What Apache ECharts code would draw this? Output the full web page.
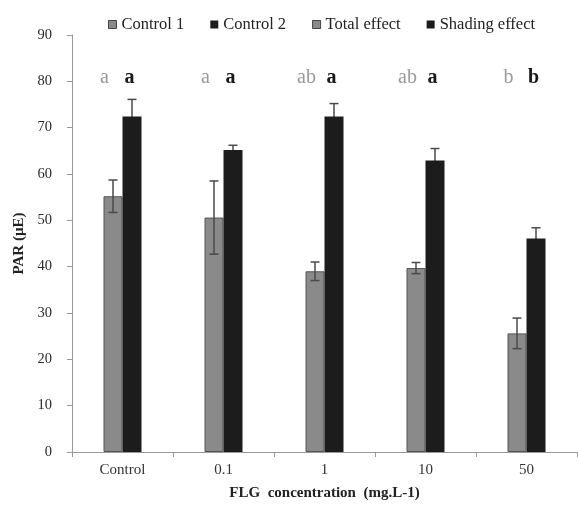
<!DOCTYPE html>
<html>
<head>
<meta charset="utf-8">
<script src="https://cdn.jsdelivr.net/npm/echarts@6/dist/echarts.min.js"></script>
<style>
html,body{margin:0;padding:0;background:#fff;}
#chart{width:578px;height:509px;}
</style>
</head>
<body>
<div id="chart"></div>
<script>
var categories = ['Control', '0.1', '1', '10', '50'];
var control1 = [55.2, null, null, null, null];
var control2 = [72.4, null, null, null, null];
var totalEffect = [null, 50.6, 39.0, 39.7, 25.6];
var shadingEffect = [null, 65.2, 72.4, 62.9, 46.1];
var grayValues = [55.2, 50.6, 39.0, 39.7, 25.6];
var blackValues = [72.4, 65.2, 72.4, 62.9, 46.1];
var grayErr = [3.5, 7.9, 2.0, 1.2, 3.3];
var blackErr = [3.7, 1.0, 2.8, 2.6, 2.3];
var grayLetters = ['a', 'a', 'ab', 'ab', 'b'];
var blackLetters = ['a', 'a', 'a', 'a', 'b'];
var yTicks = [0, 10, 20, 30, 40, 50, 60, 70, 80, 90];
var letterLevel = 80.8;

var GRAY = '#8a8a8a', BLACK = '#1c1c1c';
var SERIF = '"Liberation Serif", "DejaVu Serif", serif';
var BW = 19;

function errData(vals, errs) {
  return vals.map(function (v, i) { return [i, v - errs[i], v + errs[i]]; });
}
function errRender(shift) {
  return function (params, api) {
    var lo = api.coord([api.value(0), api.value(1)]);
    var hi = api.coord([api.value(0), api.value(2)]);
    var x = lo[0] + shift, cap = 4.5;
    var st = { stroke: '#4a4a4a', lineWidth: 1.5 };
    return { type: 'group', children: [
      { type: 'line', shape: { x1: x, y1: lo[1], x2: x, y2: hi[1] }, style: st },
      { type: 'line', shape: { x1: x - cap, y1: hi[1], x2: x + cap, y2: hi[1] }, style: st },
      { type: 'line', shape: { x1: x - cap, y1: lo[1], x2: x + cap, y2: lo[1] }, style: st }
    ]};
  };
}
function letterRender(letters, shift, color, weight) {
  return function (params, api) {
    var p = api.coord([api.value(0), letterLevel]);
    return { type: 'text', x: p[0] + shift, y: p[1], style: {
      text: letters[params.dataIndex], fill: color, font: weight + ' 20px ' + SERIF,
      align: 'center', verticalAlign: 'middle' } };
  };
}

var chart = echarts.init(document.getElementById('chart'));
chart.setOption({
  animation: false,
  backgroundColor: '#fff',
  grid: { left: 72, right: 1, top: 35, bottom: 57 },
  legend: {
    left: 103, top: 11, itemWidth: 8, itemHeight: 8, itemGap: 26,
    icon: 'rect',
    textStyle: { fontFamily: SERIF, fontSize: 16.5, color: '#222' },
    data: [
      { name: 'Control 1', itemStyle: { color: GRAY, borderColor: '#444', borderWidth: 1 } },
      { name: 'Control 2', itemStyle: { color: BLACK } },
      { name: 'Total effect', itemStyle: { color: GRAY, borderColor: '#444', borderWidth: 1 } },
      { name: 'Shading effect', itemStyle: { color: BLACK } }
    ]
  },
  xAxis: {
    type: 'category', data: categories, boundaryGap: true,
    name: 'FLG  concentration  (mg.L-1)', nameLocation: 'middle', nameGap: 34,
    nameTextStyle: { fontFamily: SERIF, fontSize: 15, fontWeight: 'bold', color: '#222' },
    axisLine: { lineStyle: { color: '#999', width: 1 } },
    axisTick: { show: true, length: 5, lineStyle: { color: '#999' } },
    axisLabel: { fontFamily: SERIF, fontSize: 15, color: '#333', margin: 11 }
  },
  yAxis: {
    type: 'value', min: 0, max: 90, interval: 10,
    name: 'PAR (µE)', nameLocation: 'middle', nameGap: 40, nameRotate: 90,
    nameTextStyle: { fontFamily: SERIF, fontSize: 15, fontWeight: 'bold', color: '#222' },
    axisLine: { show: true, lineStyle: { color: '#999', width: 1 } },
    axisTick: { show: true, length: 5, lineStyle: { color: '#999' } },
    splitLine: { show: false },
    axisLabel: { fontFamily: SERIF, fontSize: 14.5, color: '#2a2a2a', margin: 20,
      formatter: function (v) { return yTicks.indexOf(v) >= 0 ? String(v) : ''; } }
  },
  series: [
    { type: 'custom', renderItem: errRender(BW / 2), data: errData(blackValues, blackErr), z: 1 },
    { name: 'Control 1', type: 'bar', stack: 'gray', data: control1, barWidth: BW, barGap: '0%',
      itemStyle: { color: GRAY, borderColor: '#555', borderWidth: 1 }, z: 2 },
    { name: 'Total effect', type: 'bar', stack: 'gray', data: totalEffect, barWidth: BW, barGap: '0%',
      itemStyle: { color: GRAY, borderColor: '#555', borderWidth: 1 }, z: 2 },
    { name: 'Control 2', type: 'bar', stack: 'black', data: control2, barWidth: BW, barGap: '0%',
      itemStyle: { color: BLACK }, z: 2 },
    { name: 'Shading effect', type: 'bar', stack: 'black', data: shadingEffect, barWidth: BW, barGap: '0%',
      itemStyle: { color: BLACK }, z: 2 },
    { type: 'custom', renderItem: errRender(-BW / 2), data: errData(grayValues, grayErr), z: 10 },
    { type: 'custom', renderItem: letterRender(grayLetters, -18, '#999', 'normal'),
      data: categories.map(function (c, i) { return [i, letterLevel]; }), z: 10 },
    { type: 'custom', renderItem: letterRender(blackLetters, 7, '#1a1a1a', 'bold'),
      data: categories.map(function (c, i) { return [i, letterLevel]; }), z: 10 }
  ]
});
</script>
</body>
</html>
